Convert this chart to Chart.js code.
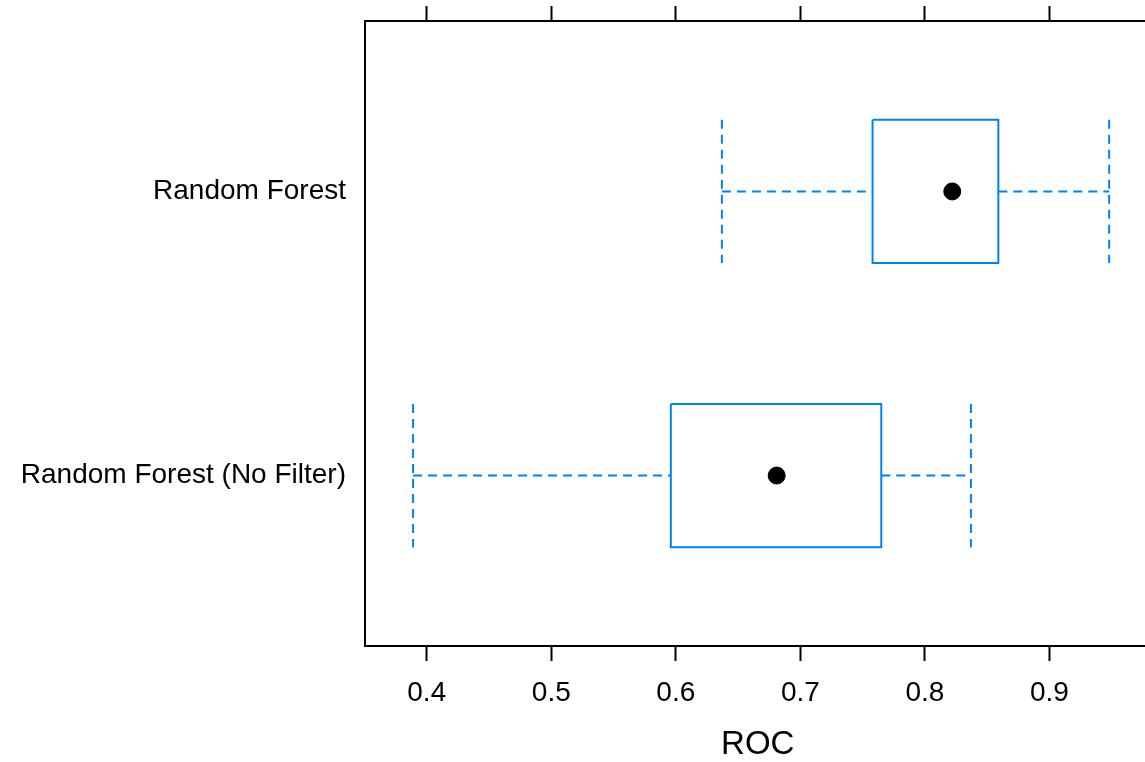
<!DOCTYPE html>
<html>
<head>
<meta charset="utf-8">
<script src="https://cdn.jsdelivr.net/npm/chart.js@4.4.1/dist/chart.umd.min.js"></script>
<style>
  html, body { margin: 0; padding: 0; background: #fff; overflow: hidden; }
  #wrap { width: 1160px; height: 762px; }
</style>
</head>
<body>
<div id="wrap"><canvas id="chartRoc" width="1160" height="762"></canvas></div>
<script>
// box-and-whisker values (ROC)
const categories = ["Random Forest", "Random Forest (No Filter)"];
const whiskerLow = [0.637, 0.389];
const boxLow = [0.758, 0.596];
const medians = [0.822, 0.681];
const boxHigh = [0.859, 0.765];
const whiskerHigh = [0.948, 0.837];
const xTicks = [0.4, 0.5, 0.6, 0.7, 0.8, 0.9];

const blue = "#0080ff";
const halfBox = 0.252;
const fontFamily = "Liberation Sans, Arial, sans-serif";

const datasets = [];
categories.forEach((name, i) => {
    const c = i + 1;
    const dashed = { borderColor: blue, borderWidth: 2, borderDash: [9, 6], showLine: true, pointRadius: 0, fill: false, tension: 0 };
    // whiskers
    datasets.push(Object.assign({ data: [{ x: whiskerLow[i], y: c }, { x: boxLow[i], y: c }] }, dashed));
    datasets.push(Object.assign({ data: [{ x: boxHigh[i], y: c }, { x: whiskerHigh[i], y: c }] }, dashed));
    // caps
    datasets.push(Object.assign({ data: [{ x: whiskerLow[i], y: c - halfBox }, { x: whiskerLow[i], y: c + halfBox }] }, dashed));
    datasets.push(Object.assign({ data: [{ x: whiskerHigh[i], y: c - halfBox }, { x: whiskerHigh[i], y: c + halfBox }] }, dashed));
    // box
    datasets.push({
        data: [
            { x: boxLow[i], y: c - halfBox }, { x: boxHigh[i], y: c - halfBox },
            { x: boxHigh[i], y: c + halfBox }, { x: boxLow[i], y: c + halfBox },
            { x: boxLow[i], y: c - halfBox }
        ],
        borderColor: blue, borderWidth: 2, showLine: true, pointRadius: 0, fill: false, tension: 0
    });
});
// medians
datasets.push({
    data: medians.map((m, i) => ({ x: m, y: i + 1 })),
    backgroundColor: "#000", borderColor: "#000", pointRadius: 8.5, pointHoverRadius: 8.5, showLine: false
});

const setTicks = (vals) => (scale) => { scale.ticks = vals.map(v => ({ value: v })); };
const fixSize = (prop, size) => (s) => {
    s[prop] = size;
    s.paddingLeft = 0; s.paddingRight = 0; s.paddingTop = 0; s.paddingBottom = 0;
};

window.addEventListener('DOMContentLoaded', () => {
    const chartRoc = new Chart("chartRoc", {
        type: "scatter",
        data: { datasets: datasets },
        options: {
            responsive: false,
            animation: false,
            events: [],
            layout: { padding: 0 },
            plugins: {
                legend: { display: false },
                tooltip: { enabled: false }
            },
            scales: {
                x: {
                    type: "linear",
                    position: "bottom",
                    min: 0.3504,
                    max: 0.9812,
                    afterBuildTicks: setTicks(xTicks),
                    afterFit: fixSize("height", 116),
                    grid: { drawOnChartArea: false, drawTicks: true, tickLength: 15, tickWidth: 2, tickColor: "#000" },
                    border: { display: true, color: "#000", width: 2 },
                    ticks: {
                        color: "#000",
                        padding: 15,
                        maxRotation: 0,
                        font: { family: fontFamily, size: 28 },
                        callback: (v) => v.toFixed(1)
                    },
                    title: {
                        display: true,
                        text: "ROC",
                        color: "#000",
                        font: { family: fontFamily, size: 33 },
                        padding: { top: 0, bottom: -3 }
                    }
                },
                x2: {
                    type: "linear",
                    position: "top",
                    min: 0.3504,
                    max: 0.9812,
                    afterBuildTicks: setTicks(xTicks),
                    afterFit: fixSize("height", 21),
                    grid: { drawOnChartArea: false, drawTicks: true, tickLength: 15, tickWidth: 2, tickColor: "#000" },
                    border: { display: true, color: "#000", width: 2 },
                    ticks: { display: false }
                },
                y: {
                    type: "linear",
                    position: "left",
                    reverse: true,
                    min: 0.4,
                    max: 2.6,
                    afterBuildTicks: setTicks([1, 2]),
                    afterFit: fixSize("width", 365),
                    grid: { drawOnChartArea: false, drawTicks: false },
                    border: { display: true, color: "#000", width: 2 },
                    ticks: {
                        color: "#000",
                        padding: 19,
                        font: { family: fontFamily, size: 28 },
                        callback: (v) => categories[Math.round(v) - 1]
                    }
                }
            }
        }
    });
});
</script>
</body>
</html>
